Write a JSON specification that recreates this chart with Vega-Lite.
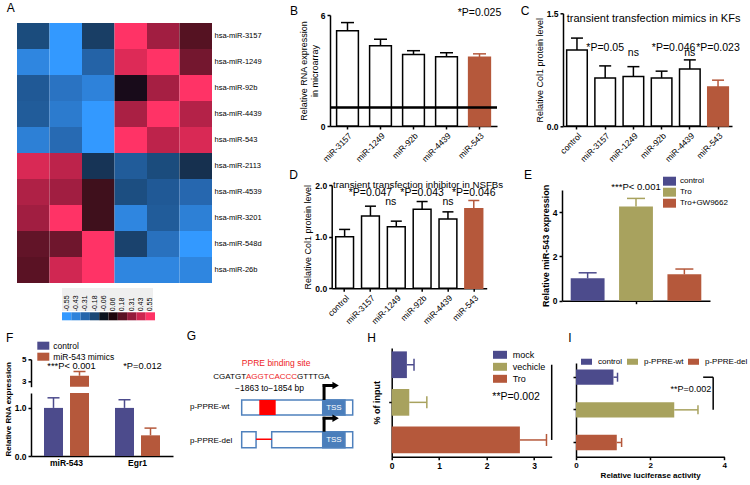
{
"$schema":"https://vega.github.io/schema/vega-lite/v6.json",
"background":"white",
"padding":0,
"config":{
 "font":"Liberation Sans",
 "view":{"stroke":null},
 "axis":{"domainColor":"#000","domainWidth":1.5,"tickColor":"#000","tickWidth":1.5,"tickSize":3,"labelColor":"#000","labelFontSize":8.5,"labelFontWeight":"bold","labelPadding":2,"titleColor":"#000","titleFontSize":9,"titleFontWeight":"normal","titlePadding":2,"grid":false,"labelFlush":false,"labelOverlap":false},
 "title":{"fontSize":12,"fontWeight":"normal","anchor":"start","frame":"group","color":"#000"},
 "legend":{"padding":0,"labelFontSize":8,"labelColor":"#000","symbolStrokeWidth":0,"symbolOpacity":1,"labelOffset":4,"rowPadding":0},
 "tick":{"opacity":1},
 "point":{"opacity":1}
},
"datasets":{
 "heat":[
  {"m":"hsa-miR-3157","c":1,"v":-0.2},{"m":"hsa-miR-3157","c":2,"v":-0.55},{"m":"hsa-miR-3157","c":3,"v":-0.16},{"m":"hsa-miR-3157","c":4,"v":0.55},{"m":"hsa-miR-3157","c":5,"v":0.34},{"m":"hsa-miR-3157","c":6,"v":0.17},
  {"m":"hsa-miR-1249","c":1,"v":-0.45},{"m":"hsa-miR-1249","c":2,"v":-0.55},{"m":"hsa-miR-1249","c":3,"v":-0.3},{"m":"hsa-miR-1249","c":4,"v":0.47},{"m":"hsa-miR-1249","c":5,"v":0.55},{"m":"hsa-miR-1249","c":6,"v":0.24},
  {"m":"hsa-miR-92b","c":1,"v":-0.26},{"m":"hsa-miR-92b","c":2,"v":-0.37},{"m":"hsa-miR-92b","c":3,"v":-0.43},{"m":"hsa-miR-92b","c":4,"v":0.0},{"m":"hsa-miR-92b","c":5,"v":0.35},{"m":"hsa-miR-92b","c":6,"v":0.55},
  {"m":"hsa-miR-4439","c":1,"v":-0.27},{"m":"hsa-miR-4439","c":2,"v":-0.4},{"m":"hsa-miR-4439","c":3,"v":-0.55},{"m":"hsa-miR-4439","c":4,"v":0.36},{"m":"hsa-miR-4439","c":5,"v":0.55},{"m":"hsa-miR-4439","c":6,"v":0.38},
  {"m":"hsa-miR-543","c":1,"v":-0.42},{"m":"hsa-miR-543","c":2,"v":-0.33},{"m":"hsa-miR-543","c":3,"v":-0.55},{"m":"hsa-miR-543","c":4,"v":0.55},{"m":"hsa-miR-543","c":5,"v":0.4},{"m":"hsa-miR-543","c":6,"v":0.46},
  {"m":"hsa-miR-2113","c":1,"v":0.46},{"m":"hsa-miR-2113","c":2,"v":0.4},{"m":"hsa-miR-2113","c":3,"v":-0.14},{"m":"hsa-miR-2113","c":4,"v":-0.27},{"m":"hsa-miR-2113","c":5,"v":-0.2},{"m":"hsa-miR-2113","c":6,"v":-0.13},
  {"m":"hsa-miR-4539","c":1,"v":0.37},{"m":"hsa-miR-4539","c":2,"v":0.34},{"m":"hsa-miR-4539","c":3,"v":0.13},{"m":"hsa-miR-4539","c":4,"v":-0.21},{"m":"hsa-miR-4539","c":5,"v":-0.26},{"m":"hsa-miR-4539","c":6,"v":-0.32},
  {"m":"hsa-miR-3201","c":1,"v":0.34},{"m":"hsa-miR-3201","c":2,"v":0.55},{"m":"hsa-miR-3201","c":3,"v":0.13},{"m":"hsa-miR-3201","c":4,"v":-0.45},{"m":"hsa-miR-3201","c":5,"v":-0.27},{"m":"hsa-miR-3201","c":6,"v":-0.42},
  {"m":"hsa-miR-548d","c":1,"v":0.2},{"m":"hsa-miR-548d","c":2,"v":0.23},{"m":"hsa-miR-548d","c":3,"v":0.55},{"m":"hsa-miR-548d","c":4,"v":-0.17},{"m":"hsa-miR-548d","c":5,"v":-0.36},{"m":"hsa-miR-548d","c":6,"v":-0.55},
  {"m":"hsa-miR-26b","c":1,"v":0.18},{"m":"hsa-miR-26b","c":2,"v":0.44},{"m":"hsa-miR-26b","c":3,"v":0.55},{"m":"hsa-miR-26b","c":4,"v":-0.45},{"m":"hsa-miR-26b","c":5,"v":-0.45},{"m":"hsa-miR-26b","c":6,"v":-0.45}
 ],
 "F":[
  {"gene":"miR-543","trt":"control","v":1.0,"e":1.21},
  {"gene":"miR-543","trt":"miR-543 mimics","v":3.52,"e":3.9},
  {"gene":"Egr1","trt":"control","v":1.0,"e":1.17},
  {"gene":"Egr1","trt":"miR-543 mimics","v":0.43,"e":0.58}
 ],
 "none":[]
},
"resolve":{"scale":{"color":"independent","fill":"independent","stroke":"independent","xOffset":"independent","x":"independent","y":"independent"},"legend":{"color":"independent","fill":"independent","stroke":"independent"}},
"bounds":"flush",
"spacing":0,
"hconcat":[
 {"hconcat":[{"width":17,"height":1,"data":{"name":"none"},"mark":"point"},{"vconcat":[{"width":1,"height":23,"data":{"name":"none"},"mark":"point"},
   {"width":195,"height":260,
    "title":{"text":"A","dx":-10.3,"offset":8},
    "data":{"name":"heat"},
    "mark":{"type":"rect"},
    "encoding":{
     "x":{"field":"c","type":"ordinal","axis":null,"scale":{"paddingInner":0,"paddingOuter":0}},
     "y":{"field":"m","type":"nominal","sort":["hsa-miR-3157","hsa-miR-1249","hsa-miR-92b","hsa-miR-4439","hsa-miR-543","hsa-miR-2113","hsa-miR-4539","hsa-miR-3201","hsa-miR-548d","hsa-miR-26b"],"scale":{"paddingInner":0,"paddingOuter":0},"axis":{"orient":"right","title":null,"domain":false,"ticks":false,"labelFontSize":7.5,"labelFontWeight":"normal","labelPadding":2}},
     "color":{"field":"v","type":"quantitative","scale":{"domain":[-0.55,-0.43,-0.31,-0.18,-0.06,0.06,0.18,0.31,0.43,0.55],"range":["#3399FF","#2E82DA","#2565AB","#1A4775","#0A121E","#1E060C","#5A1224","#931C3C","#CC2650","#FF3366"]},"legend":null}
    }
   }],"bounds":"flush","spacing":0,"resolve":{"scale":{"color":"independent"},"legend":{"color":"independent"}}}],"bounds":"flush","spacing":0,"resolve":{"scale":{"color":"independent"},"legend":{"color":"independent"}}},
 {"hconcat":[{"width":62,"height":1,"data":{"name":"none"},"mark":"point"},{"vconcat":[{"width":1,"height":288,"data":{"name":"none"},"mark":"point"},
   {"width":91,"height":23,"data":{"name":"none"},"mark":"point","view":{"fill":"#EFEFEF","stroke":null}}],"bounds":"flush","spacing":0}],"bounds":"flush","spacing":0},
 {"hconcat":[{"width":62,"height":1,"data":{"name":"none"},"mark":"point"},{"vconcat":[{"width":1,"height":312,"data":{"name":"none"},"mark":"point"},
   {"width":93,"height":8,
    "data":{"values":[{"l":"-0.55"},{"l":"-0.43"},{"l":"-0.31"},{"l":"-0.18"},{"l":"-0.06"},{"l":"0.06"},{"l":"0.18"},{"l":"0.31"},{"l":"0.43"},{"l":"0.55"}]},
    "mark":{"type":"rect"},
    "encoding":{
     "x":{"field":"l","type":"nominal","scale":{"domain":["-0.55","-0.43","-0.31","-0.18","-0.06","0.06","0.18","0.31","0.43","0.55"],"paddingInner":0,"paddingOuter":0},"axis":{"orient":"top","labelAngle":-90,"domain":false,"ticks":false,"title":null,"labelFontSize":7,"labelFontWeight":"normal","labelPadding":1.5}},
     "color":{"field":"l","type":"nominal","scale":{"domain":["-0.55","-0.43","-0.31","-0.18","-0.06","0.06","0.18","0.31","0.43","0.55"],"range":["#3399FF","#2E82DA","#2565AB","#1A4775","#0A121E","#1E060C","#5A1224","#931C3C","#CC2650","#FF3366"]},"legend":null}
    }
   }],"bounds":"flush","spacing":0.3,"resolve":{"scale":{"color":"independent"},"legend":{"color":"independent"}}}],"bounds":"flush","spacing":0,"resolve":{"scale":{"color":"independent"},"legend":{"color":"independent"}}},
 {"hconcat":[{"width":330,"height":1,"data":{"name":"none"},"mark":"point"},{"vconcat":[{"width":1,"height":15,"data":{"name":"none"},"mark":"point"},
    {"width":167,"height":111,
     "title":{"text":"B","dx":-40,"offset":-9.25},
     "data":{"values":[{"g":"miR-3157","v":5.15,"e":5.59},{"g":"miR-1249","v":4.34,"e":4.69},{"g":"miR-92b","v":3.87,"e":4.07},{"g":"miR-4439","v":3.75,"e":3.96},{"g":"miR-543","v":3.71,"e":3.9}]},
     "layer":[
      {"mark":{"type":"rule","strokeWidth":1.5},"encoding":{"x":{"field":"g","type":"nominal","scale":{"domain":["miR-3157","miR-1249","miR-92b","miR-4439","miR-543"],"paddingInner":0.34,"paddingOuter":0.2},"axis":{"title":null,"labelAngle":-45,"labelFontWeight":"normal","labelFontSize":8.5}},"y":{"field":"v","type":"quantitative","scale":{"domain":[0,6],"nice":false},"axis":{"values":[0,2,4,6],"title":["Relative RNA expression","in microarray"],"titlePadding":1}},"y2":{"field":"e"},"color":{"field":"g","type":"nominal","scale":{"domain":["miR-3157","miR-1249","miR-92b","miR-4439","miR-543"],"range":["#000","#000","#000","#000","#B5583B"]},"legend":null}}},
      {"mark":{"type":"tick","thickness":1.5,"size":13},"encoding":{"x":{"field":"g","type":"nominal"},"y":{"field":"e","type":"quantitative"},"color":{"field":"g","type":"nominal","legend":null}}},
      {"mark":{"type":"bar","strokeWidth":1.5},"encoding":{"x":{"field":"g","type":"nominal"},"y":{"field":"v","type":"quantitative"},"fill":{"field":"g","type":"nominal","scale":{"domain":["miR-3157","miR-1249","miR-92b","miR-4439","miR-543"],"range":["#fff","#fff","#fff","#fff","#B5583B"]},"legend":null},"stroke":{"field":"g","type":"nominal","scale":{"domain":["miR-3157","miR-1249","miR-92b","miR-4439","miR-543"],"range":["#000","#000","#000","#000","#B5583B"]},"legend":null}}},
      {"mark":{"type":"rule","strokeWidth":1.5,"color":"#000"},"encoding":{"y":{"datum":1}}},
      {"data":{"values":[{"g":"miR-543","y":6.09,"lab":"*P=0.025"}]},"mark":{"type":"text","fontSize":10.5},"encoding":{"x":{"field":"g","type":"nominal"},"y":{"field":"y","type":"quantitative"},"text":{"field":"lab"}}}
     ]
    }],"bounds":"flush","spacing":0}],"bounds":"flush","spacing":0},
 {"hconcat":[{"width":563,"height":1,"data":{"name":"none"},"mark":"point"},{"vconcat":[{"width":1,"height":13,"data":{"name":"none"},"mark":"point"},
    {"width":169,"height":112.7,
     "title":{"text":"C","dx":-42.3,"offset":-8.25},
     "data":{"values":[{"g":"control","v":1.01,"e":1.17},{"g":"miR-3157","v":0.64,"e":0.8},{"g":"miR-1249","v":0.66,"e":0.79},{"g":"miR-92b","v":0.64,"e":0.73},{"g":"miR-4439","v":0.76,"e":0.88},{"g":"miR-543","v":0.52,"e":0.61}]},
     "layer":[
      {"mark":{"type":"rule","strokeWidth":1.5},"encoding":{"x":{"field":"g","type":"nominal","scale":{"domain":["control","miR-3157","miR-1249","miR-92b","miR-4439","miR-543"],"paddingInner":0.27,"paddingOuter":0.13},"axis":{"title":null,"labelAngle":-45,"labelFontWeight":"normal","labelFontSize":8.5}},"y":{"field":"v","type":"quantitative","scale":{"domain":[0,1.5],"nice":false},"axis":{"values":[0,0.5,1,1.5],"format":".1f","title":"Relative Col1 protein level"}},"y2":{"field":"e"},"color":{"field":"g","type":"nominal","scale":{"domain":["control","miR-3157","miR-1249","miR-92b","miR-4439","miR-543"],"range":["#000","#000","#000","#000","#000","#B5583B"]},"legend":null}}},
      {"mark":{"type":"tick","thickness":1.5,"size":12},"encoding":{"x":{"field":"g","type":"nominal"},"y":{"field":"e","type":"quantitative"},"color":{"field":"g","type":"nominal","legend":null}}},
      {"mark":{"type":"bar","strokeWidth":1.5},"encoding":{"x":{"field":"g","type":"nominal"},"y":{"field":"v","type":"quantitative"},"fill":{"field":"g","type":"nominal","scale":{"domain":["control","miR-3157","miR-1249","miR-92b","miR-4439","miR-543"],"range":["#fff","#fff","#fff","#fff","#fff","#B5583B"]},"legend":null},"stroke":{"field":"g","type":"nominal","scale":{"domain":["control","miR-3157","miR-1249","miR-92b","miR-4439","miR-543"],"range":["#000","#000","#000","#000","#000","#B5583B"]},"legend":null}}},
      {"data":{"values":[{"g":"control","y":1.425,"lab":"transient transfection mimics in KFs"}]},"mark":{"type":"text","fontSize":11,"align":"left","dx":-10.2},"encoding":{"x":{"field":"g","type":"nominal"},"y":{"field":"y","type":"quantitative"},"text":{"field":"lab"}}},
      {"data":{"values":[{"g":"miR-3157","y":1.04,"lab":"*P=0.05"},{"g":"miR-1249","y":0.97,"lab":"ns"},{"g":"miR-4439","y":0.97,"lab":"ns"},{"g":"miR-543","y":1.04,"lab":"*P=0.023"}]},"mark":{"type":"text","fontSize":10.5},"encoding":{"x":{"field":"g","type":"nominal"},"y":{"field":"y","type":"quantitative"},"text":{"field":"lab"}}},
      {"data":{"values":[{"g":"miR-92b","y":1.04,"lab":"*P=0.046"}]},"mark":{"type":"text","fontSize":10.5,"dx":12},"encoding":{"x":{"field":"g","type":"nominal"},"y":{"field":"y","type":"quantitative"},"text":{"field":"lab"}}}
     ]
    }],"bounds":"flush","spacing":0.3}],"bounds":"flush","spacing":0},
 {"hconcat":[{"width":331,"height":1,"data":{"name":"none"},"mark":"point"},{"vconcat":[{"width":1,"height":185,"data":{"name":"none"},"mark":"point"},
    {"width":155,"height":103.3,
     "title":{"text":"D","dx":-42.4,"offset":-1.55},
     "data":{"values":[{"g":"control","v":1.0,"e":1.14},{"g":"miR-3157","v":1.4,"e":1.59},{"g":"miR-1249","v":1.19,"e":1.3},{"g":"miR-92b","v":1.53,"e":1.68},{"g":"miR-4439","v":1.34,"e":1.48},{"g":"miR-543","v":1.54,"e":1.7}]},
     "layer":[
      {"mark":{"type":"rule","strokeWidth":1.5},"encoding":{"x":{"field":"g","type":"nominal","scale":{"domain":["control","miR-3157","miR-1249","miR-92b","miR-4439","miR-543"],"paddingInner":0.31,"paddingOuter":0.155},"axis":{"title":null,"labelAngle":-45,"labelFontWeight":"normal","labelFontSize":8.5}},"y":{"field":"v","type":"quantitative","scale":{"domain":[0,2],"nice":false},"axis":{"values":[0,0.5,1,1.5,2],"format":".1f","title":"Relative Col1 protein level"}},"y2":{"field":"e"},"color":{"field":"g","type":"nominal","scale":{"domain":["control","miR-3157","miR-1249","miR-92b","miR-4439","miR-543"],"range":["#000","#000","#000","#000","#000","#B5583B"]},"legend":null}}},
      {"mark":{"type":"tick","thickness":1.5,"size":11},"encoding":{"x":{"field":"g","type":"nominal"},"y":{"field":"e","type":"quantitative"},"color":{"field":"g","type":"nominal","legend":null}}},
      {"mark":{"type":"bar","strokeWidth":1.5},"encoding":{"x":{"field":"g","type":"nominal"},"y":{"field":"v","type":"quantitative"},"fill":{"field":"g","type":"nominal","scale":{"domain":["control","miR-3157","miR-1249","miR-92b","miR-4439","miR-543"],"range":["#fff","#fff","#fff","#fff","#fff","#B5583B"]},"legend":null},"stroke":{"field":"g","type":"nominal","scale":{"domain":["control","miR-3157","miR-1249","miR-92b","miR-4439","miR-543"],"range":["#000","#000","#000","#000","#000","#B5583B"]},"legend":null}}},
      {"data":{"values":[{"g":"control","y":2.0,"lab":"transient transfection inhibitor in NSFBs"}]},"mark":{"type":"text","fontSize":9.7,"align":"left","dx":-11.6},"encoding":{"x":{"field":"g","type":"nominal"},"y":{"field":"y","type":"quantitative"},"text":{"field":"lab"}}},
      {"data":{"values":[{"g":"miR-3157","y":1.84,"lab":"*P=0.047"},{"g":"miR-92b","y":1.84,"lab":"*P=0.043"},{"g":"miR-4439","y":1.68,"lab":"ns"},{"g":"miR-543","y":1.84,"lab":"*P=0.046"}]},"mark":{"type":"text","fontSize":10.5},"encoding":{"x":{"field":"g","type":"nominal"},"y":{"field":"y","type":"quantitative"},"text":{"field":"lab"}}},
      {"data":{"values":[{"g":"miR-1249","y":1.68,"lab":"ns"}]},"mark":{"type":"text","fontSize":10.5,"dx":-5.5},"encoding":{"x":{"field":"g","type":"nominal"},"y":{"field":"y","type":"quantitative"},"text":{"field":"lab"}}}
     ]
    }],"bounds":"flush","spacing":0}],"bounds":"flush","spacing":0.7},
 {"hconcat":[{"width":562,"height":1,"data":{"name":"none"},"mark":"point"},{"vconcat":[{"width":1,"height":190,"data":{"name":"none"},"mark":"point"},
    {"width":148,"height":110.7,
     "title":{"text":"E","dx":-38,"offset":-7},
     "data":{"values":[{"a":"miR-543","t":"control","v":1.01,"e":1.26},{"a":"miR-543","t":"Tro","v":4.25,"e":4.62},{"a":"miR-543","t":"Tro+GW9662","v":1.19,"e":1.43}]},
     "encoding":{"x":{"field":"a","type":"nominal","scale":{"paddingInner":0,"paddingOuter":0},"axis":{"title":null,"labels":false}}},
     "layer":[
      {"mark":{"type":"bar"},"encoding":{"xOffset":{"field":"t","type":"nominal","scale":{"domain":["control","Tro","Tro+GW9662"],"paddingInner":0.3,"paddingOuter":0.18}},"y":{"field":"v","type":"quantitative","scale":{"domain":[0,5],"nice":false},"axis":{"values":[0,1,2,3,4,5],"title":"Relative miR-543 expression","titleFontWeight":"bold"}},"color":{"field":"t","type":"nominal","scale":{"domain":["control","Tro","Tro+GW9662"],"range":["#4C4B8C","#A8A25E","#B5583B"]},"legend":{"orient":"none","legendX":101,"legendY":-15.3,"symbolType":"M-1,-0.69H1V0.69H-1Z","symbolSize":169,"labelFontSize":8,"labelOffset":4,"rowPadding":0,"title":null}}}},
      {"mark":{"type":"rule","strokeWidth":1.5},"encoding":{"xOffset":{"field":"t","type":"nominal"},"y":{"field":"v","type":"quantitative"},"y2":{"field":"e"},"color":{"field":"t","type":"nominal"}}},
      {"mark":{"type":"tick","thickness":1.5,"size":18},"encoding":{"xOffset":{"field":"t","type":"nominal"},"y":{"field":"e","type":"quantitative"},"color":{"field":"t","type":"nominal"}}},
      {"data":{"values":[{"a":"miR-543","y":5.14,"lab":"***P< 0.001"}]},"mark":{"type":"text","fontSize":9.5},"encoding":{"y":{"field":"y","type":"quantitative"},"text":{"field":"lab"}}}
     ]
    }],"bounds":"flush","spacing":0,"resolve":{"scale":{"color":"independent"},"legend":{"color":"independent"}}}],"bounds":"flush","spacing":0,"resolve":{"scale":{"color":"independent"},"legend":{"color":"independent"}}},
 {"hconcat":[{"width":31,"height":1,"data":{"name":"none"},"mark":"point"},{"vconcat":[{"width":1,"height":359,"data":{"name":"none"},"mark":"point"},
    {"width":142,"height":27.4,
     "title":{"text":"F","dx":-25,"offset":-4.8},
     "data":{"name":"F"},
     "encoding":{"x":{"field":"gene","type":"nominal","scale":{"domain":["miR-543","Egr1"],"paddingInner":0,"paddingOuter":0},"axis":null}},
     "layer":[
      {"mark":{"type":"bar","clip":true},"encoding":{"xOffset":{"field":"trt","type":"nominal","scale":{"domain":["control","miR-543 mimics"],"paddingInner":0.27,"paddingOuter":0.5}},"y":{"field":"v","type":"quantitative","scale":{"domain":[2.55,5],"nice":false,"zero":false},"axis":{"values":[3,4,5],"title":null,"labelFontSize":8}},"color":{"field":"trt","type":"nominal","scale":{"domain":["control","miR-543 mimics"],"range":["#4C4B8C","#B5583B"]},"legend":{"orient":"none","legendX":6.3,"legendY":-19.6,"symbolType":"M-1,-0.67H1V0.67H-1Z","symbolSize":144,"labelFontSize":8.5,"labelOffset":4,"rowPadding":0,"title":null}}}},
      {"mark":{"type":"rule","strokeWidth":1.5,"clip":true},"encoding":{"xOffset":{"field":"trt","type":"nominal"},"y":{"field":"v","type":"quantitative"},"y2":{"field":"e"},"color":{"field":"trt","type":"nominal"}}},
      {"mark":{"type":"tick","thickness":1.5,"size":12,"clip":true},"encoding":{"xOffset":{"field":"trt","type":"nominal"},"y":{"field":"e","type":"quantitative"},"color":{"field":"trt","type":"nominal"}}},
      {"data":{"values":[{"gene":"miR-543","y":4.43,"lab":"***P< 0.001"},{"gene":"Egr1","y":4.43,"lab":"*P=0.012"}]},"mark":{"type":"text","fontSize":9.3,"dx":5},"encoding":{"y":{"field":"y","type":"quantitative"},"text":{"field":"lab"}}}
     ]
    }],"bounds":"flush","spacing":0.3,"resolve":{"scale":{"color":"independent"},"legend":{"color":"independent"}}}],"bounds":"flush","spacing":0,"resolve":{"scale":{"color":"independent"},"legend":{"color":"independent"}}},
 {"hconcat":[{"width":31,"height":1,"data":{"name":"none"},"mark":"point"},{"vconcat":[{"width":1,"height":393,"data":{"name":"none"},"mark":"point"},
    {"width":142,"height":63,
     "data":{"name":"F"},
     "encoding":{"x":{"field":"gene","type":"nominal","scale":{"domain":["miR-543","Egr1"],"paddingInner":0,"paddingOuter":0},"axis":{"title":null,"ticks":false,"labelAngle":0,"labelFontSize":8.5}}},
     "layer":[
      {"mark":{"type":"bar","clip":true},"encoding":{"xOffset":{"field":"trt","type":"nominal","scale":{"domain":["control","miR-543 mimics"],"paddingInner":0.27,"paddingOuter":0.5}},"y":{"field":"v","type":"quantitative","scale":{"domain":[0,1.31],"nice":false},"axis":{"values":[0,0.5,1],"format":".1f","title":"Relative RNA expression","titleAnchor":"start","titleFontWeight":"bold","titleFontSize":8}},"color":{"field":"trt","type":"nominal","scale":{"domain":["control","miR-543 mimics"],"range":["#4C4B8C","#B5583B"]},"legend":null}}},
      {"mark":{"type":"rule","strokeWidth":1.5,"clip":true},"encoding":{"xOffset":{"field":"trt","type":"nominal"},"y":{"field":"v","type":"quantitative"},"y2":{"field":"e"},"color":{"field":"trt","type":"nominal","legend":null}}},
      {"mark":{"type":"tick","thickness":1.5,"size":12,"clip":true},"encoding":{"xOffset":{"field":"trt","type":"nominal"},"y":{"field":"e","type":"quantitative"},"color":{"field":"trt","type":"nominal","legend":null}}}
     ]
    }],"bounds":"flush","spacing":0,"resolve":{"scale":{"color":"independent"},"legend":{"color":"independent"}}}],"bounds":"flush","spacing":0,"resolve":{"scale":{"color":"independent"},"legend":{"color":"independent"}}},
 {"hconcat":[{"width":185,"height":1,"data":{"name":"none"},"mark":"point"},{"vconcat":[{"width":1,"height":350,"data":{"name":"none"},"mark":"point"},
   {"width":170,"height":105,
    "title":{"text":"G","dx":1.7,"offset":6.7},
    "encoding":{
     "x":{"field":"x","type":"quantitative","scale":{"domain":[0,100],"nice":false,"zero":false},"axis":null},
     "y":{"field":"y","type":"quantitative","scale":{"domain":[0,100],"nice":false,"zero":false,"reverse":true},"axis":null}
    },
    "layer":[
     {"data":{"values":[{"x":33.35,"x2":98.65,"y":47.6,"y2":61.9},{"x":33.35,"x2":41.8,"y":77.8,"y2":93.0},{"x":51.0,"x2":98.65,"y":77.8,"y2":93.0}]},"mark":{"type":"rect","fill":"#fff","stroke":"#4F81BD","strokeWidth":1.5},"encoding":{"x2":{"field":"x2"},"y2":{"field":"y2"}}},
     {"data":{"values":[{"x":43.7,"x2":53.35,"y":47.6,"y2":61.9}]},"mark":{"type":"rect","fill":"#FF0000"},"encoding":{"x2":{"field":"x2"},"y2":{"field":"y2"}}},
     {"data":{"values":[{"x":81.0,"x2":94.1,"y":47.6,"y2":61.9},{"x":81.0,"x2":94.1,"y":77.8,"y2":93.0}]},"mark":{"type":"rect","fill":"#4A7EBB","stroke":"#4F81BD","strokeWidth":1.5},"encoding":{"x2":{"field":"x2"},"y2":{"field":"y2"}}},
     {"data":{"values":[{"x":41.8,"x2":51.0,"y":85.0}]},"mark":{"type":"rule","color":"#FF0000","strokeWidth":1.5},"encoding":{"x2":{"field":"x2"}}},
     {"data":{"values":[{"x":81.8,"y":47.6,"y2":32.4},{"x":81.8,"y":77.8,"y2":63.6}]},"mark":{"type":"rule","color":"#000","strokeWidth":3},"encoding":{"y2":{"field":"y2"}}},
     {"data":{"values":[{"x":81.0,"x2":87.3,"y":33.8},{"x":81.0,"x2":87.3,"y":65.0}]},"mark":{"type":"rule","color":"#000","strokeWidth":3},"encoding":{"x2":{"field":"x2"}}},
     {"data":{"values":[{"x":88.6,"y":33.8},{"x":88.6,"y":65.0}]},"mark":{"type":"point","shape":"triangle-right","filled":true,"color":"#000","size":55,"opacity":1}},
     {"data":{"values":[{"x":53.6,"y":12.7,"t":"PPRE binding site"}]},"mark":{"type":"text","fontSize":8.5,"color":"#EE1C25"},"encoding":{"text":{"field":"t"}}},
     {"data":{"values":[{"x":35.9,"y":25.4,"t":"CGATGT"}]},"mark":{"type":"text","fontSize":8,"align":"right","color":"#000"},"encoding":{"text":{"field":"t"}}},
     {"data":{"values":[{"x":50.9,"y":25.4,"t":"AGGTCACCC"}]},"mark":{"type":"text","fontSize":8,"color":"#EE1C25"},"encoding":{"text":{"field":"t"}}},
     {"data":{"values":[{"x":65.9,"y":25.4,"t":"GTTTGA"}]},"mark":{"type":"text","fontSize":8,"align":"left","color":"#000"},"encoding":{"text":{"field":"t"}}},
     {"data":{"values":[{"x":49.7,"y":36.5,"t":"−1863 to−1854 bp"}]},"mark":{"type":"text","fontSize":8.5,"color":"#000"},"encoding":{"text":{"field":"t"}}},
     {"data":{"values":[{"x":2.9,"y":54.0,"t":"p-PPRE-wt"},{"x":2.9,"y":86.7,"t":"p-PPRE-del"}]},"mark":{"type":"text","fontSize":8,"align":"left","color":"#000"},"encoding":{"text":{"field":"t"}}},
     {"data":{"values":[{"x":87.6,"y":54.8,"t":"TSS"},{"x":87.6,"y":85.4,"t":"TSS"}]},"mark":{"type":"text","fontSize":8,"color":"#fff"},"encoding":{"text":{"field":"t"}}}
    ]
   }],"bounds":"flush","spacing":0}],"bounds":"flush","spacing":0},
 {"hconcat":[{"width":391,"height":1,"data":{"name":"none"},"mark":"point"},{"vconcat":[{"width":1,"height":348,"data":{"name":"none"},"mark":"point"},
   {"width":160,"height":108.7,
    "title":{"text":"H","dx":-24.4,"offset":2.8},
    "data":{"values":[{"t":"mock","v":0.32,"e":0.47},{"t":"vechicle","v":0.37,"e":0.74},{"t":"Tro","v":2.7,"e":3.26}]},
    "encoding":{"y":{"field":"t","type":"nominal","scale":{"domain":["mock","vechicle","Tro"],"paddingInner":0.29,"paddingOuter":0.09},"axis":{"values":["vechicle"],"labels":false,"title":"% of input","titleFontWeight":"bold","titleFontSize":9,"titlePadding":6}}},
    "layer":[
     {"mark":{"type":"bar"},"encoding":{"x":{"field":"v","type":"quantitative","scale":{"domain":[0,3.37],"nice":false},"axis":{"values":[0,0.5,1,1.5,2,2.5,3],"labelExpr":"datum.value % 1 === 0 ? datum.label : ''","title":null}},"color":{"field":"t","type":"nominal","scale":{"domain":["mock","vechicle","Tro"],"range":["#4C4B8C","#A8A25E","#B5583B"]},"legend":{"orient":"none","legendX":101.3,"legendY":-0.2,"symbolType":"M-1,-0.57H1V0.57H-1Z","symbolSize":196,"labelFontSize":9,"labelOffset":5.7,"rowPadding":0,"title":null}}}},
     {"mark":{"type":"rule","strokeWidth":1.5},"encoding":{"x":{"field":"v","type":"quantitative"},"x2":{"field":"e"},"color":{"field":"t","type":"nominal"}}},
     {"mark":{"type":"tick","thickness":1.5,"size":12},"encoding":{"x":{"field":"e","type":"quantitative"},"color":{"field":"t","type":"nominal"}}},
     {"data":{"values":[{"x":3.37,"t":"mock","t2":"Tro"}]},"mark":{"type":"rule","strokeWidth":1.5,"color":"#000"},"encoding":{"x":{"field":"x","type":"quantitative"},"y2":{"field":"t2"}}},
     {"data":{"values":[{"x":2.62,"t":"vechicle","lab":"**P=0.002"}]},"mark":{"type":"text","fontSize":10.5,"dy":-5,"color":"#000"},"encoding":{"x":{"field":"x","type":"quantitative"},"text":{"field":"lab"}}}
    ]
   }],"bounds":"flush","spacing":0,"resolve":{"scale":{"color":"independent"},"legend":{"color":"independent"}}}],"bounds":"flush","spacing":0.7,"resolve":{"scale":{"color":"independent"},"legend":{"color":"independent"}}},
 {"hconcat":[{"width":576,"height":1,"data":{"name":"none"},"mark":"point"},{"vconcat":[{"width":1,"height":363,"data":{"name":"none"},"mark":"point"},
  {"width":148.3,"height":93.7,
   "title":{"text":"I","dx":-7.7,"offset":11},
   "data":{"values":[{"t":"control","v":1.01,"e":1.12},{"t":"p-PPRE-wt","v":2.65,"e":3.29},{"t":"p-PPRE-del","v":1.1,"e":1.23}]},
   "encoding":{"y":{"field":"t","type":"nominal","scale":{"domain":["control","p-PPRE-wt","p-PPRE-del"],"paddingInner":0.53,"paddingOuter":0.2},"axis":{"labels":false,"title":null}}},
   "layer":[
    {"mark":{"type":"bar"},"encoding":{"x":{"field":"v","type":"quantitative","scale":{"domain":[0,4],"nice":false},"axis":{"values":[0,0.5,1,1.5,2,2.5,3,3.5,4],"labelExpr":"datum.value % 1 === 0 ? datum.label : ''","title":"Relative luciferase activity","titleFontWeight":"bold","titleFontSize":8,"titlePadding":2,"labelFontSize":8}},"color":{"field":"t","type":"nominal","scale":{"domain":["control","p-PPRE-wt","p-PPRE-del"],"range":["#4C4B8C","#A8A25E","#B5583B"]},"legend":{"orient":"none","direction":"horizontal","legendX":5,"legendY":-7,"symbolType":"M-1,-0.55H1V0.55H-1Z","symbolSize":121,"labelFontSize":8,"labelOffset":6,"columnPadding":4,"title":null}}}},
    {"mark":{"type":"rule","strokeWidth":1.5},"encoding":{"x":{"field":"v","type":"quantitative"},"x2":{"field":"e"},"color":{"field":"t","type":"nominal"}}},
    {"mark":{"type":"tick","thickness":1.5,"size":9},"encoding":{"x":{"field":"e","type":"quantitative"},"color":{"field":"t","type":"nominal"}}},
    {"data":{"values":[{"x":3.43,"x2":3.7,"t":"control"}]},"mark":{"type":"rule","strokeWidth":1.5,"color":"#000"},"encoding":{"x":{"field":"x","type":"quantitative"},"x2":{"field":"x2"}}},
    {"data":{"values":[{"x":3.7,"t":"control","t2":"p-PPRE-wt"}]},"mark":{"type":"rule","strokeWidth":1.5,"color":"#000"},"encoding":{"x":{"field":"x","type":"quantitative"},"y2":{"field":"t2"}}},
    {"data":{"values":[{"x":3.1,"t":"control","lab":"**P=0.002"}]},"mark":{"type":"text","fontSize":9,"dy":12,"color":"#000"},"encoding":{"x":{"field":"x","type":"quantitative"},"text":{"field":"lab"}}}
   ]
  }],"bounds":"flush","spacing":0,"resolve":{"scale":{"color":"independent"},"legend":{"color":"independent"}}}],"bounds":"flush","spacing":0,"resolve":{"scale":{"color":"independent"},"legend":{"color":"independent"}}}
]
}
